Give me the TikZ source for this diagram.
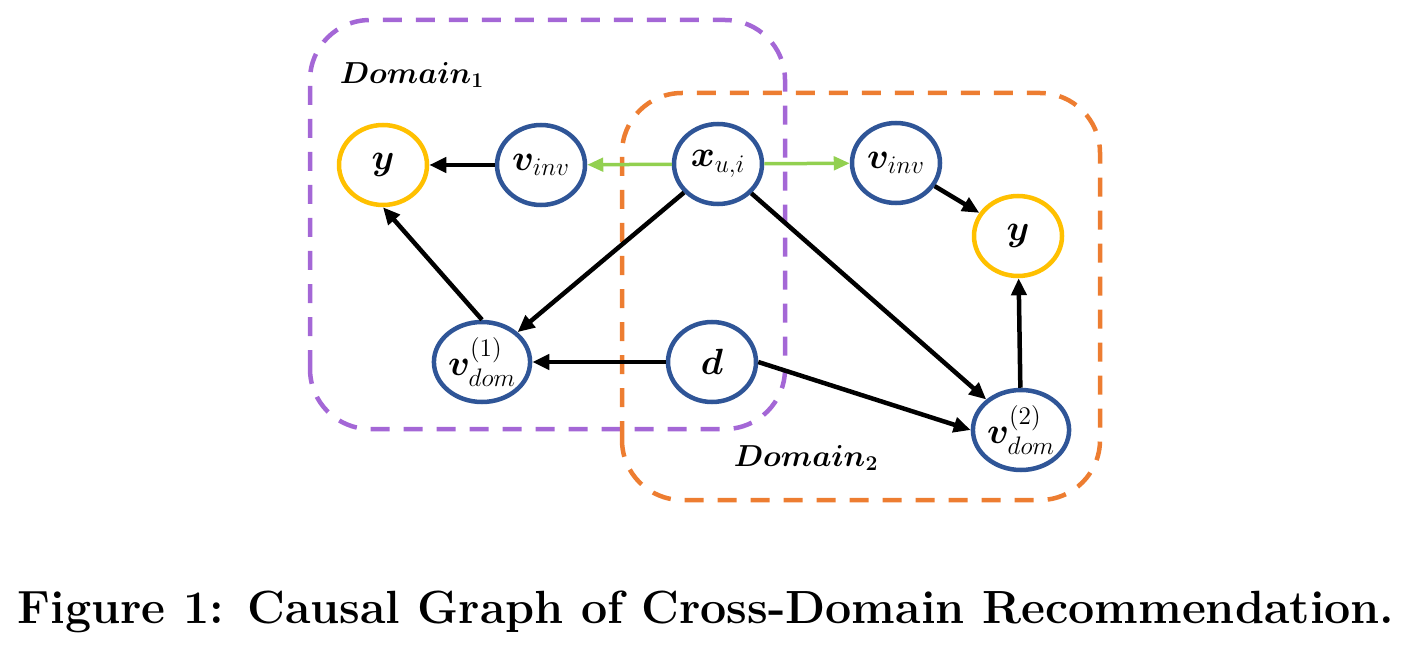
\documentclass[tikz,border=0pt]{standalone}
\usepackage{amsmath, amssymb}
\usepackage{bm}
\usepackage{xcolor}
\usetikzlibrary{arrows.meta, positioning, shapes.geometric}
\definecolor{myblue}{RGB}{47,85,151}
\definecolor{myyellow}{RGB}{255,192,0}
\definecolor{mygreen}{RGB}{146,208,80}
\definecolor{myorange}{RGB}{237,125,49}
\definecolor{mypurple}{RGB}{164,103,214}

\begin{document}
\begin{tikzpicture}[
    var/.style={ellipse, draw=myblue, line width=0.09cm, minimum width=1.76cm,
                minimum height=1.6cm, inner sep=0pt, font=\fontsize{22}{26}\selectfont},
    outcome/.style={var, draw=myyellow},
    edge/.style={line width=0.09cm, -{Triangle[length=0.34cm, width=0.3cm]}},
    greenedge/.style={line width=0.07cm, mygreen, -{Triangle[length=0.32cm, width=0.27cm]}},
    domainbox/.style={dashed, line width=0.09cm, rounded corners=1.2cm,
                dash pattern=on 0.38cm off 0.28cm},
    domainlabel/.style={font=\fontsize{16.5}{19}\selectfont}
  ]
        \useasboundingbox (0,0) rectangle (28.5,13.04);
        % Domain boxes
        \draw[domainbox, mypurple] (6.2,4.46) rectangle (15.7,12.64);
        \draw[domainbox, myorange] (12.44,3.04) rectangle (22.0,11.18);
        \node[domainlabel] (dom1) at (8.24,11.54) {$\bm{Domain_1}$};
        \node[domainlabel] (dom2) at (16.12,3.88) {$\bm{Domain_2}$};
        % Domain 1
        \node[outcome] (y1) at (7.66,9.74) {$\bm{y}$};
        \node[var] (vinv1) at (10.82,9.74) {$\bm{v}_{inv}$};
        \node[var] (vdom1) at (9.64,5.80) {$\bm{v}^{(1)}_{dom}$};
        % Shared
        \node[var] (x) at (14.36,9.76) {$\bm{x}_{u,i}$};
        \node[var] (d) at (14.24,5.80) {$\bm{d}$};
        % Domain 2
        \node[var] (vinv2) at (17.92,9.78) {$\bm{v}_{inv}$};
        \node[outcome] (y2) at (20.36,8.32) {$\bm{y}$};
        \node[var] (vdom2) at (20.42,4.44) {$\bm{v}^{(2)}_{dom}$};
        % Edges
        \draw[greenedge] (x) -- (vinv1);
        \draw[greenedge] (x) -- (vinv2);
        \draw[edge] (vinv1) -- (y1);
        \draw[edge] (vdom1.north) -- (y1.south);
        \draw[edge] (x) -- (vdom1);
        \draw[edge] (d) -- (vdom1);
        \draw[edge] (x) -- (vdom2);
        \draw[edge] (d.east) -- (vdom2.west);
        \draw[edge] (vinv2) -- (y2);
        \draw[edge] (vdom2) -- (y2);
        % Caption
        \node[font=\fontsize{26.5}{30}\selectfont\bfseries] (caption) at (14.12,0.8)
              {Figure 1: Causal Graph of Cross-Domain Recommendation.};
      \end{tikzpicture}
\end{document}
